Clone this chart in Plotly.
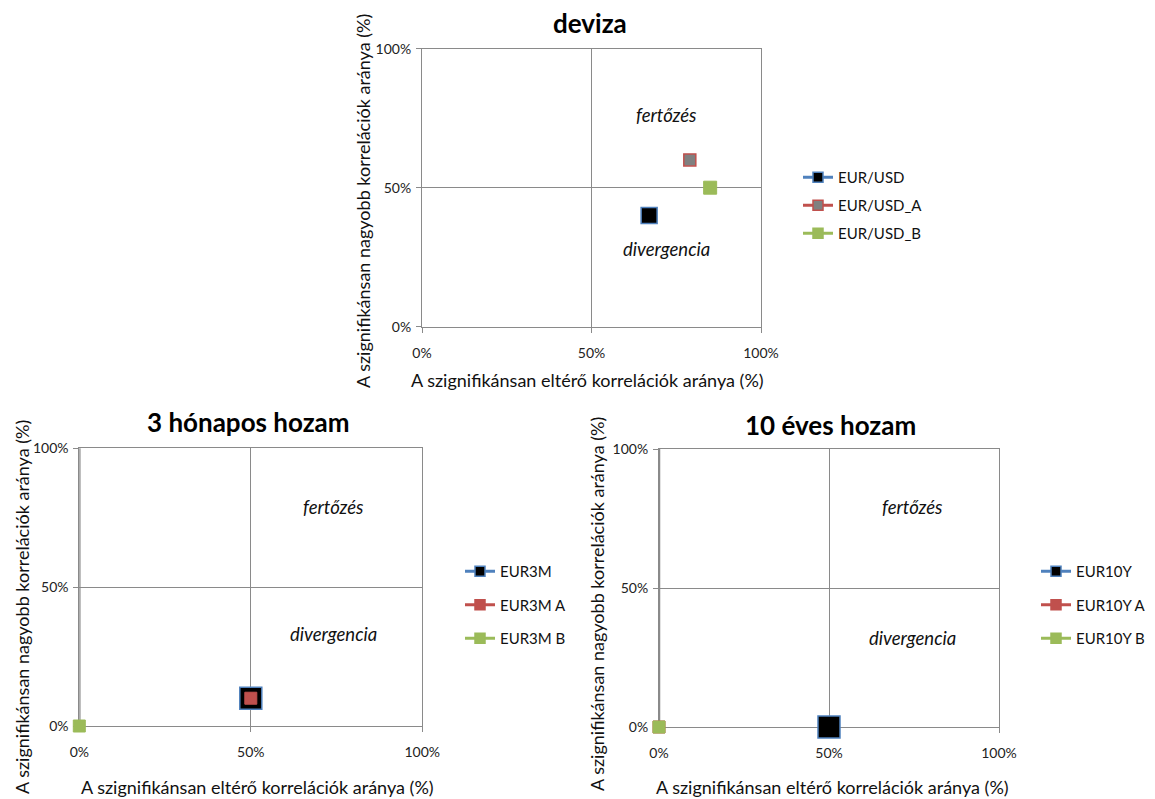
import plotly.graph_objects as go

# Axis ticks shared by all three panels
tick_vals = [0, 0.5, 1]
tick_text = ["0%", "50%", "100%"]

# Panel 1: deviza
fx_names = ["EUR/USD", "EUR/USD_A", "EUR/USD_B"]
fx_x = [0.67, 0.79, 0.85]
fx_y = [0.40, 0.60, 0.50]

# Panel 2: 3 hónapos hozam
m3_names = ["EUR3M", "EUR3M A", "EUR3M B"]
m3_x = [0.50, 0.50, 0.00]
m3_y = [0.10, 0.10, 0.00]

# Panel 3: 10 éves hozam
y10_names = ["EUR10Y", "EUR10Y A", "EUR10Y B"]
y10_x = [0.50, 0.00, 0.00]
y10_y = [0.00, 0.00, 0.00]

x_title = "A szignifikánsan eltérő korrelációk aránya (%)"
y_title = "A szignifikánsan nagyobb korrelációk aránya (%)"
upper_label = "fertőzés"
lower_label = "divergencia"

W, H = 1155, 799
FONT = "Lato"
GRID = "#8a8a8a"
BLUE, RED, GREEN = "#4F81BD", "#C0504D", "#9BBB59"


def px(x):
    return x / W


def py(y):
    return 1 - y / H


panels = [
    dict(
        ax="", title="deviza", names=fx_names, xs=fx_x, ys=fx_y,
        dom_x=(422, 761), dom_y=(48.7, 326.7),
        fills=["#000000", "#808080", GREEN], sizes=[16, 12, 13],
        edges=[BLUE, RED, GREEN], edge_w=[1.5, 1.5, 1],
        lbl=[(0.72, 0.76), (0.72, 0.28)],
        title_xy=(590, 23), xt_xy=(588, 380), yt_xy=(363, 201),
        legend="legend", leg_xy=(798, 161), leg_gap=5.5, thick_y=False,
    ),
    dict(
        ax="2", title="3 hónapos hozam", names=m3_names, xs=m3_x, ys=m3_y,
        dom_x=(79.3, 422.3), dom_y=(448.3, 726),
        fills=["#000000", RED, GREEN], sizes=[22, 12, 12],
        edges=[BLUE, RED, GREEN], edge_w=[1.5, 1, 1],
        lbl=[(0.74, 0.79), (0.74, 0.33)],
        title_xy=(248, 422), xt_xy=(257, 787), yt_xy=(22, 607),
        legend="legend2", leg_xy=(460, 555), leg_gap=11, thick_y=True,
    ),
    dict(
        ax="3", title="10 éves hozam", names=y10_names, xs=y10_x, ys=y10_y,
        dom_x=(659, 999), dom_y=(449, 727),
        fills=["#000000", RED, GREEN], sizes=[22, 12, 12],
        edges=[BLUE, RED, GREEN], edge_w=[1.5, 1, 1],
        lbl=[(0.745, 0.79), (0.745, 0.32)],
        title_xy=(830, 425), xt_xy=(832, 787), yt_xy=(597, 604),
        legend="legend3", leg_xy=(1036, 555), leg_gap=11, thick_y=True,
    ),
]

line_colors = [BLUE, RED, GREEN]

fig = go.Figure()
annotations = []
shapes = []
layout = {}

for p in panels:
    xa, ya = "x" + p["ax"], "y" + p["ax"]
    for i, name in enumerate(p["names"]):
        # plotted point
        fig.add_trace(go.Scatter(
            x=[p["xs"][i]], y=[p["ys"][i]], mode="lines+markers", name=name,
            xaxis=xa, yaxis=ya, showlegend=False, cliponaxis=False,
            line=dict(color=line_colors[i], width=3),
            marker=dict(symbol="square", size=p["sizes"][i], color=p["fills"][i],
                        line=dict(color=p["edges"][i], width=p["edge_w"][i])),
        ))
    for i, name in enumerate(p["names"]):
        # legend entry with a compact marker
        fig.add_trace(go.Scatter(
            x=[None], y=[None], mode="lines+markers", name=name,
            xaxis=xa, yaxis=ya, legend=p["legend"], legendgroup=p["legend"] + str(i),
            line=dict(color=line_colors[i], width=3),
            marker=dict(symbol="square", size=10, color=p["fills"][i],
                        line=dict(color=p["edges"][i], width=1.5)),
        ))

    axis_common = dict(
        range=[0, 1], tickvals=tick_vals, ticktext=tick_text, showgrid=True,
        gridcolor=GRID, gridwidth=1, showline=True, linecolor=GRID, linewidth=1,
        mirror=True, ticks="outside", ticklen=5, tickcolor=GRID, zeroline=False,
        layer="below traces",
        tickfont=dict(family=FONT, size=14, color="#222222"), fixedrange=True,
    )
    xkey = "xaxis" + p["ax"]
    ykey = "yaxis" + p["ax"]
    layout[xkey] = dict(axis_common, domain=[px(p["dom_x"][0]), px(p["dom_x"][1])],
                        anchor=ya, ticklabelstandoff=8)
    layout[ykey] = dict(axis_common, domain=[py(p["dom_y"][1]), py(p["dom_y"][0])],
                        anchor=xa, ticklabelstandoff=2)

    layout[p["legend"]] = dict(
        x=px(p["leg_xy"][0]), y=py(p["leg_xy"][1]), xanchor="left", yanchor="top",
        tracegroupgap=p["leg_gap"], traceorder="grouped", bgcolor="rgba(0,0,0,0)",
        font=dict(family=FONT, size=15, color="#111111"),
    )

    if p["thick_y"]:
        shapes.append(dict(type="line", xref=xa, yref=ya + " domain", x0=0, x1=0,
                           y0=0, y1=1, line=dict(color=GRID, width=2.5), layer="below"))

    # quadrant labels
    for (lx, ly), txt in zip(p["lbl"], [upper_label, lower_label]):
        annotations.append(dict(
            x=lx, y=ly, xref=xa, yref=ya, text="<i>" + txt + "</i>", showarrow=False,
            xanchor="center", yanchor="middle",
            font=dict(family=FONT, size=18.5, color="#111111"),
        ))
    # panel title
    annotations.append(dict(
        x=px(p["title_xy"][0]), y=py(p["title_xy"][1]), xref="paper", yref="paper",
        text="<b>" + p["title"] + "</b>", showarrow=False,
        xanchor="center", yanchor="middle",
        font=dict(family=FONT, size=26, color="#000000"),
    ))
    # axis titles
    annotations.append(dict(
        x=px(p["xt_xy"][0]), y=py(p["xt_xy"][1]), xref="paper", yref="paper",
        text=x_title, showarrow=False, xanchor="center", yanchor="middle",
        font=dict(family=FONT, size=18, color="#111111"),
    ))
    annotations.append(dict(
        x=px(p["yt_xy"][0]), y=py(p["yt_xy"][1]), xref="paper", yref="paper",
        text=y_title, showarrow=False, textangle=-90, xanchor="center", yanchor="middle",
        font=dict(family=FONT, size=18, color="#111111"),
    ))

fig.update_layout(
    width=W, height=H, margin=dict(l=0, r=0, t=0, b=0, autoexpand=False),
    paper_bgcolor="white", plot_bgcolor="white",
    annotations=annotations, shapes=shapes, **layout,
)

fig.write_html("out.html", config={"displayModeBar": False})
